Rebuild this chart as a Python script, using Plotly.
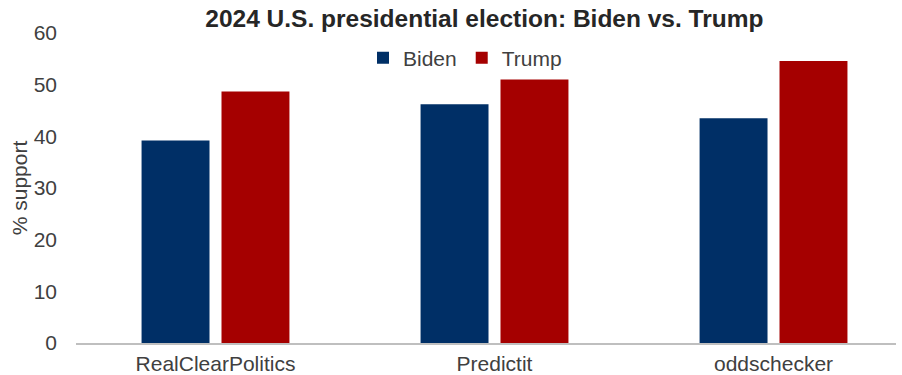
import plotly.graph_objects as go

categories = ["RealClearPolitics", "Predictit", "oddschecker"]
biden = [39.2, 46.2, 43.5]
trump = [48.7, 51.0, 54.6]
y_ticks = [0, 10, 20, 30, 40, 50, 60]

fig = go.Figure()
fig.add_trace(go.Bar(name="Biden", x=categories, y=biden, marker_color="#002F66",
                     marker_line_width=0))
fig.add_trace(go.Bar(name="Trump", x=categories, y=trump, marker_color="#A50000",
                     marker_line_width=0))

fig.update_layout(
    width=902, height=375,
    margin=dict(l=76, r=6, t=33, b=32, autoexpand=False),
    paper_bgcolor="white", plot_bgcolor="white",
    barmode="group", bargap=0.427, bargroupgap=0.15,
    font=dict(family="Liberation Sans, Arial, sans-serif", color="#404040", size=21),
    title=dict(text="<b>2024 U.S. presidential election: Biden vs. Trump</b>",
               xref="container", x=0.537, xanchor="center", y=0.952, yanchor="middle",
               font=dict(size=24.5, color="#262626")),
    legend=dict(orientation="h", x=0.35, xanchor="left", y=0.919, yanchor="middle",
                font=dict(size=21, color="#404040"), itemwidth=30,
                bgcolor="rgba(0,0,0,0)", traceorder="normal"),
    showlegend=True,
)
fig.update_xaxes(range=[-0.5, 2.439], showline=True, linecolor="#BFBFBF", linewidth=1.5,
                 showgrid=False, ticks="", ticklabelstandoff=1, automargin=False,
                 tickfont=dict(size=21, color="#404040"))
fig.update_yaxes(range=[0, 60], tickvals=y_ticks, showgrid=False, zeroline=False,
                 showline=False, ticks="", ticklabelstandoff=18, automargin=False,
                 tickfont=dict(size=21, color="#404040"),
                 title=dict(text="% support", font=dict(size=21, color="#404040"), standoff=0))

fig.write_html("out.html")
